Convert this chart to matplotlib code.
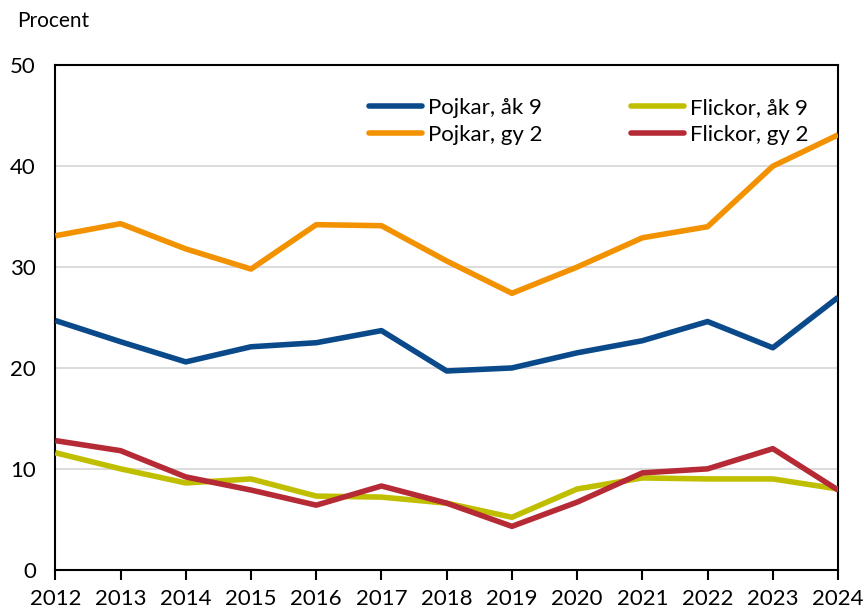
import matplotlib.pyplot as plt

plt.rcParams['font.family'] = ['Lato', 'DejaVu Sans']

years = list(range(2012, 2025))
pojkar_ak9 = [24.7, 22.6, 20.6, 22.1, 22.5, 23.7, 19.7, 20.0, 21.5, 22.7, 24.6, 22.0, 27.0]
pojkar_gy2 = [33.1, 34.3, 31.8, 29.8, 34.2, 34.1, 30.6, 27.4, 30.0, 32.9, 34.0, 40.0, 43.1]
flickor_ak9 = [11.6, 10.0, 8.6, 9.0, 7.3, 7.2, 6.6, 5.2, 8.0, 9.1, 9.0, 9.0, 8.0]
flickor_gy2 = [12.8, 11.8, 9.2, 7.9, 6.4, 8.3, 6.6, 4.3, 6.7, 9.6, 10.0, 12.0, 7.9]

series = [
    ('Pojkar, åk 9', pojkar_ak9, '#0a4a8a'),
    ('Pojkar, gy 2', pojkar_gy2, '#f39200'),
    ('Flickor, åk 9', flickor_ak9, '#bfbf00'),
    ('Flickor, gy 2', flickor_gy2, '#b52a35'),
]

fig, ax = plt.subplots(figsize=(8.64, 6.1), dpi=100)
fig.subplots_adjust(left=0.064, right=0.970, top=0.893, bottom=0.066)

for label, vals, color in series:
    ax.plot(years, vals, color=color, lw=4, label=label, solid_capstyle='butt', zorder=3)

ax.set_xlim(2012, 2024)
ax.set_ylim(0, 50)
ax.set_xticks(years)
ax.set_yticks([0, 10, 20, 30, 40, 50])
ax.tick_params(axis='x', direction='out', length=7, width=1.5, labelsize=16, pad=7)
ax.tick_params(axis='y', length=0, labelsize=16, pad=14)
ax.grid(axis='y', color='#d9d9d9', lw=1.3, zorder=0)
for s in ax.spines.values():
    s.set_linewidth(1.5)

fig.text(0.02, 0.955, 'Procent', fontsize=15)

leg = ax.legend(loc='upper left', bbox_to_anchor=(0.375, 0.975), ncol=2, frameon=False,
                fontsize=16, handlelength=2.4, handletextpad=0.25, columnspacing=4.0,
                labelspacing=0.3)
for h in leg.get_lines():
    h.set_solid_capstyle('round')

plt.savefig('out.png', dpi=100)
